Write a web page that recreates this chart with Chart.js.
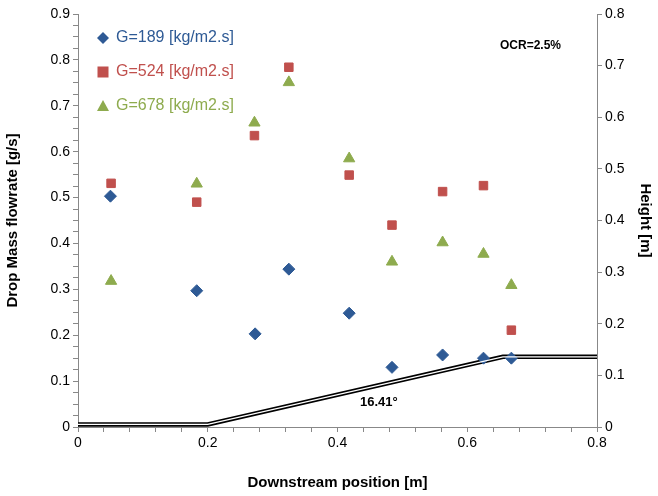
<!DOCTYPE html>
<html><head><meta charset="utf-8">
<script src="https://cdn.jsdelivr.net/npm/chart.js@4"></script>
<style>html,body{margin:0;padding:0;background:#fff}#w{width:658px;height:496px}</style>
</head><body><div id="w"><canvas id="c"></canvas></div>
<script>
const xBlue = [0.050,0.183,0.273,0.325,0.418,0.484,0.562,0.625,0.668];
const yBlue = [0.503,0.297,0.203,0.344,0.248,0.130,0.157,0.150,0.150];
const xRed = [0.051,0.183,0.272,0.325,0.418,0.484,0.562,0.625,0.668];
const yRed = [0.531,0.490,0.635,0.784,0.549,0.440,0.513,0.526,0.211];
const xGreen = [0.051,0.183,0.272,0.325,0.418,0.484,0.562,0.625,0.668];
const yGreen = [0.318,0.530,0.663,0.751,0.585,0.360,0.402,0.377,0.309];
const xWall = [0,0.2,0.655,0.8];
const yWall = [0.005,0.005,0.136,0.136];
const seriesNames = ['G=189 [kg/m2.s]','G=524 [kg/m2.s]','G=678 [kg/m2.s]'];
const colors = ['#2E5A95','#C0504D','#8EAB4E'];
const pts = (xs,ys)=>xs.map((x,i)=>({x,y:ys[i]}));
const font = "'Liberation Sans', 'Open Sans', sans-serif";

const annot = {
  id:'annot',
  afterDraw(chart){
    const c=chart.ctx;
    c.save();
    const L=[['rectRot',0],['rect',1],['triangle',2]];
    L.forEach((l,i)=>{
      const y=38+i*34;
      c.fillStyle=colors[i];
      const x=103;
      if(i===0){c.beginPath();c.moveTo(x,y-6);c.lineTo(x+6,y);c.lineTo(x,y+6);c.lineTo(x-6,y);c.closePath();c.fill();}
      if(i===1){c.fillRect(x-5.5,y-5.5,11,11);}
      if(i===2){c.beginPath();c.moveTo(x,y-6);c.lineTo(x+6,y+5);c.lineTo(x-6,y+5);c.closePath();c.fill();}
      c.font="16px "+font;c.textBaseline='middle';c.textAlign='left';
      c.fillText(seriesNames[i],116,y);
    });
    c.fillStyle='#000';
    c.font="bold 12px "+font;
    c.fillText('OCR=2.5%',500,46);
    c.font="bold 13px "+font;
    c.fillText('16.41°',360,402);
    c.restore();
  }
};

const xs = chart => {};
new Chart(document.getElementById('c'),{
  type:'scatter',
  data:{datasets:[
    {label:seriesNames[0],data:pts(xBlue,yBlue),yAxisID:'y',pointStyle:'rectRot',pointRadius:6,backgroundColor:colors[0],borderColor:colors[0]},
    {label:seriesNames[1],data:pts(xRed,yRed),yAxisID:'y',pointStyle:'rect',pointRadius:6,backgroundColor:colors[1],borderColor:colors[1]},
    {label:seriesNames[2],data:pts(xGreen,yGreen),yAxisID:'y',pointStyle:'triangle',pointRadius:6.5,backgroundColor:colors[2],borderColor:colors[2]},
    {type:'line',data:pts(xWall,yWall),yAxisID:'y2',borderColor:'#fff',borderWidth:1.3,pointRadius:0,order:-1},
    {type:'line',data:pts(xWall,yWall),yAxisID:'y2',borderColor:'#000',borderWidth:4.5,pointRadius:0,order:0}
  ]},
  options:{
    responsive:true,maintainAspectRatio:false,animation:false,
    layout:{padding:{top:14,right:0,left:0,bottom:0}},
    plugins:{legend:{display:false},tooltip:{enabled:false}},
    scales:{
      x:{type:'linear',min:0,max:0.8,
        afterBuildTicks(s){s.ticks=[];for(let i=0;i<=20;i++)s.ticks.push({value:+(i*0.04).toFixed(2)});},
        afterFit(s){s.height=69;},
        border:{color:'#888'},
        grid:{drawOnChartArea:false,tickLength:5,color:'#888'},
        ticks:{color:'#000',font:{family:font,size:14},maxRotation:0,autoSkip:false,
          callback:(v)=>{const r=Math.round(v*100);return r%20===0?String(r/100):'';}},
        title:{display:true,text:'Downstream position [m]',color:'#000',font:{family:font,size:15,weight:'bold'}}},
      y:{type:'linear',position:'left',min:0,max:0.9,
        afterBuildTicks(s){s.ticks=[];for(let i=0;i<=36;i++)s.ticks.push({value:+(i*0.025).toFixed(3)});},
        afterFit(s){s.width=78;},
        border:{color:'#888'},
        grid:{drawOnChartArea:false,tickLength:5,color:'#888'},
        ticks:{color:'#000',font:{family:font,size:14},autoSkip:false,
          callback:(v)=>{const r=Math.round(v*1000);return r%100===0?String(r/1000):'';}},
        title:{display:true,text:'Drop Mass flowrate [g/s]',color:'#000',font:{family:font,size:15,weight:'bold'}}},
      y2:{type:'linear',position:'right',min:0,max:0.8,
        afterFit(s){s.width=61;},
        border:{color:'#888'},
        grid:{drawOnChartArea:false,tickLength:5,color:'#888'},
        ticks:{color:'#000',stepSize:0.1,font:{family:font,size:14},callback:(v)=>String(Math.round(v*10)/10)},
        title:{display:true,text:'Height [m]',color:'#000',font:{family:font,size:15,weight:'bold'}}}
    }
  },
  plugins:[annot]
});
</script></body></html>
